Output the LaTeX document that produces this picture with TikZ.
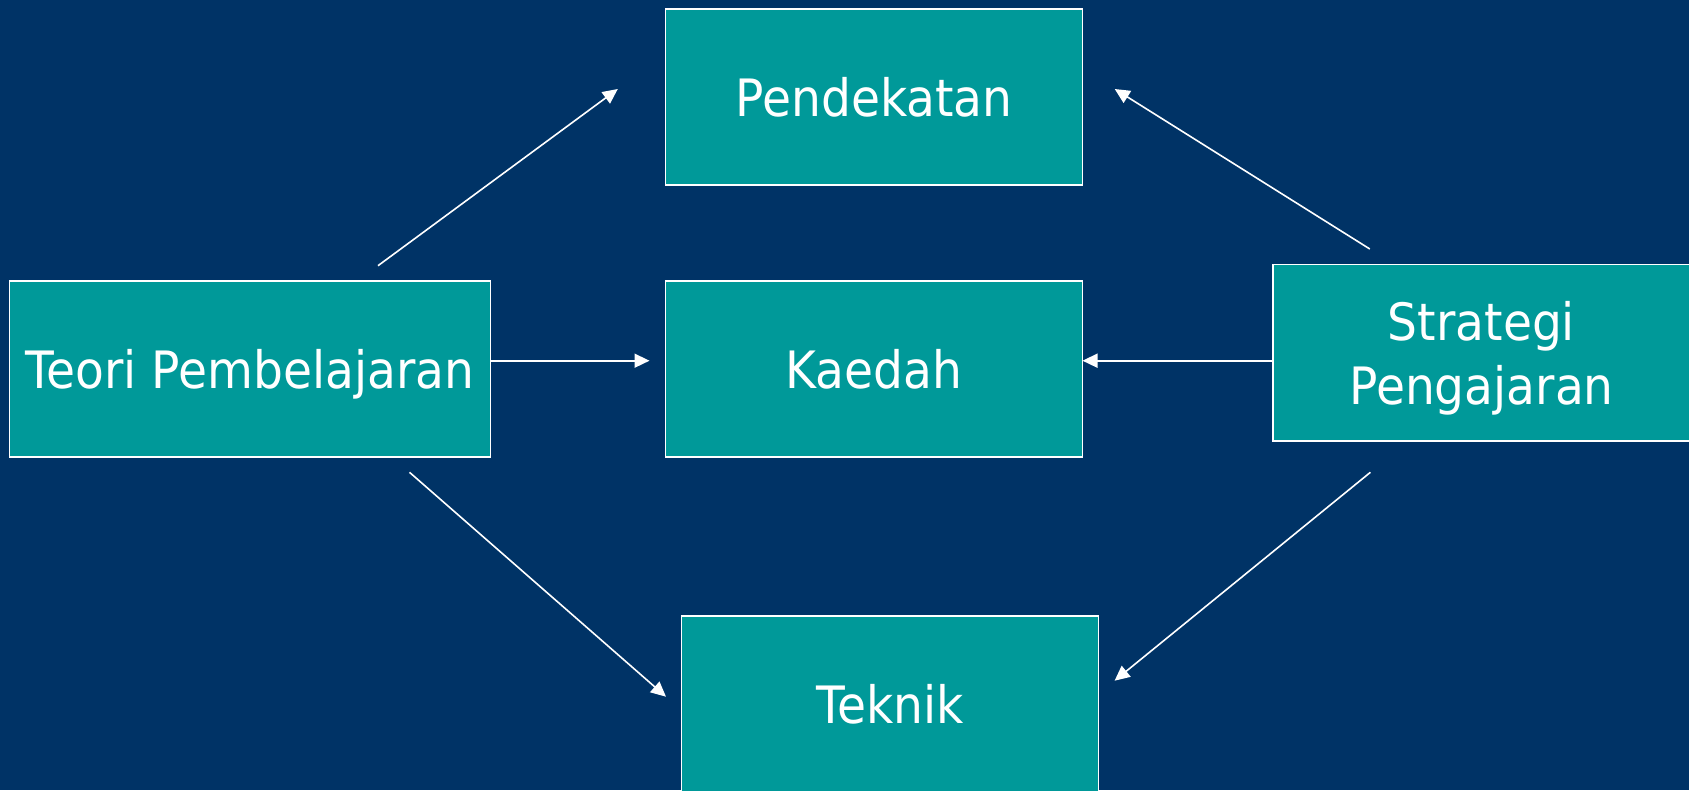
\documentclass[tikz,border=0pt]{standalone}
\usepackage{fontspec}
\setmainfont{DejaVu Sans}[FakeStretch=0.915]
\usetikzlibrary{arrows.meta}
\definecolor{bgnavy}{RGB}{0,51,102}
\definecolor{boxteal}{RGB}{0,153,153}
\begin{document}
\begin{tikzpicture}[x=1pt,y=-1pt,
  box/.style={draw=white, line width=1.8pt, fill=boxteal, text=white,
    minimum height=176pt, inner sep=0pt, outer sep=0pt, text depth=-4pt,
    font=\fontsize{51.5pt}{64pt}\selectfont},
  conn/.style={draw=white, line width=1.6pt, -{Triangle[length=15pt,width=14pt]}}]
\useasboundingbox (0,0) rectangle (1689,790);
\fill[bgnavy] (0,0) rectangle (1689,790);
\node[box, minimum width=417pt] (pend) at (874,97) {Pendekatan};
\node[box, minimum width=481pt] (teori) at (250,369) {Teori Pembelajaran};
\node[box, minimum width=417pt] (kaedah) at (874,369) {Kaedah};
\node[box, minimum width=417pt, minimum height=176.5pt, align=center, text depth=0pt] (strat) at (1481.5,352.7) {Strategi\\Pengajaran};
\node[box, minimum width=417pt] (teknik) at (890,704) {Teknik};
\coordinate (t1) at (378,265.7);
\coordinate (p1) at (617.8,89);
\coordinate (s1) at (1369.8,249);
\coordinate (p2) at (1114.7,89);
\coordinate (t2) at (409.5,472.3);
\coordinate (k1) at (666,696.7);
\coordinate (s2) at (1370.4,472.3);
\coordinate (k2) at (1114.6,680.7);
\coordinate (tk) at (649.5,360.7);
\draw[conn] (t1) -- (p1);
\draw[conn] (s1) -- (p2);
\draw[conn] (t2) -- (k1);
\draw[conn] (s2) -- (k2);
\draw[conn] (teori.east |- tk) -- (tk);
\draw[conn] (strat.west |- tk) -- (kaedah.east |- tk);
\end{tikzpicture}
\end{document}
